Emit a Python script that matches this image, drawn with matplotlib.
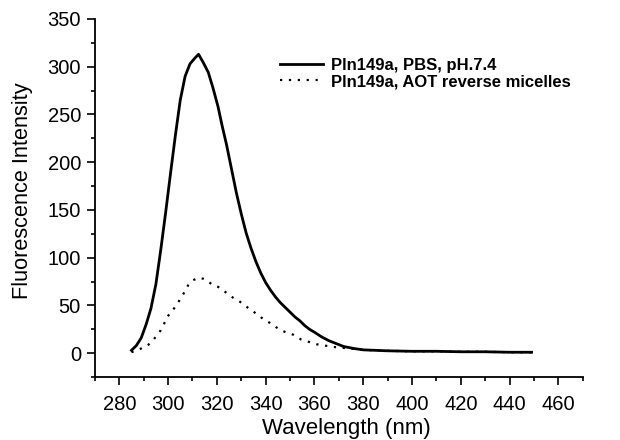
import matplotlib
matplotlib.use("Agg")
import matplotlib.pyplot as plt
from matplotlib.ticker import MultipleLocator

plt.rcParams['font.family'] = ['Liberation Sans', 'DejaVu Sans']

# PBS, pH 7.4 (solid)
wl_pbs = [285, 287, 289, 291, 293, 295, 297, 299, 301, 303, 305, 307, 309, 311, 312.5,
          314.5, 316.5, 318.5, 320.5, 322, 324, 326, 328, 330, 332, 334, 336, 338, 340,
          342, 344, 346, 348, 350, 352, 354, 356, 358, 360, 363, 366, 369, 372, 376, 380,
          390, 400, 410, 420, 430, 440, 449]
int_pbs = [3, 8, 16, 30, 47, 72, 108, 147, 188, 228, 265, 290, 303, 309, 313,
           304, 294, 277, 258, 240, 218, 193, 168, 146, 126, 110, 96, 84, 74,
           66, 59, 53, 48, 43, 38, 34, 29, 25, 22, 17, 13, 10, 7, 5, 3.5,
           2.5, 2, 2, 1.5, 1.5, 1, 1]

# AOT reverse micelles (dotted)
wl_aot = [285, 287, 289, 292, 294, 297, 300, 302.5, 304.6, 306.5, 308.2, 310.3, 312.5,
          314.4, 316, 318, 320.5, 323.5, 326.7, 329.4, 332.8, 335.5, 338.9, 341.7, 345,
          347.8, 351.2, 354.6, 360.8, 367.6, 374.5, 380, 390, 400, 410, 420, 430, 440, 449]
int_aot = [1, 3, 5, 9, 14, 24, 39, 47, 55, 63, 71, 76.5, 79,
           78, 76, 72, 69.5, 64, 58, 54, 47.5, 42.6, 36, 31.8, 26,
           22.4, 19.5, 14.3, 9.4, 6.6, 4.9, 3.5, 2.5, 2, 2, 1.5, 1.5, 1, 1]

labels = ['Pln149a, PBS, pH.7.4', 'Pln149a, AOT reverse micelles']

fig = plt.figure(figsize=(6.2, 4.4), dpi=100)
ax = fig.add_axes([0.153, 0.143, 0.787, 0.814])

ax.plot(wl_pbs, int_pbs, color='black', lw=2.0, label=labels[0])
ax.plot(wl_aot, int_aot, color='black', lw=1.6, linestyle=(0, (1, 3)), label=labels[1])

ax.set_xlim(270, 470)
ax.set_ylim(-25, 350)
ax.xaxis.set_major_locator(MultipleLocator(20))
ax.xaxis.set_minor_locator(MultipleLocator(10))
ax.yaxis.set_major_locator(MultipleLocator(50))
ax.yaxis.set_minor_locator(MultipleLocator(25))
ax.set_xticks(range(280, 461, 20))

for s in ['top', 'right']:
    ax.spines[s].set_visible(False)
for s in ['left', 'bottom']:
    ax.spines[s].set_linewidth(1.3)

ax.tick_params(which='major', direction='out', length=6, width=1.2, labelsize=14.5)
ax.tick_params(which='minor', direction='out', length=3, width=1.2)
ax.tick_params(axis='x', which='major', pad=7)
ax.tick_params(axis='y', which='major', pad=4)

ax.set_xlabel('Wavelength (nm)', fontsize=16)
ax.xaxis.set_label_coords(0.515, -0.115)
ax.set_ylabel('Fluorescence Intensity', fontsize=15.7)
ax.yaxis.set_label_coords(-0.127, 0.52)

leg = ax.legend(loc='upper left', bbox_to_anchor=(0.379, 0.89), frameon=False,
                prop={'weight': 'bold', 'size': 12}, handlelength=2.6,
                handletextpad=0.45, labelspacing=0.05, borderaxespad=0,
                borderpad=0)

fig.savefig('out.png', dpi=100)
